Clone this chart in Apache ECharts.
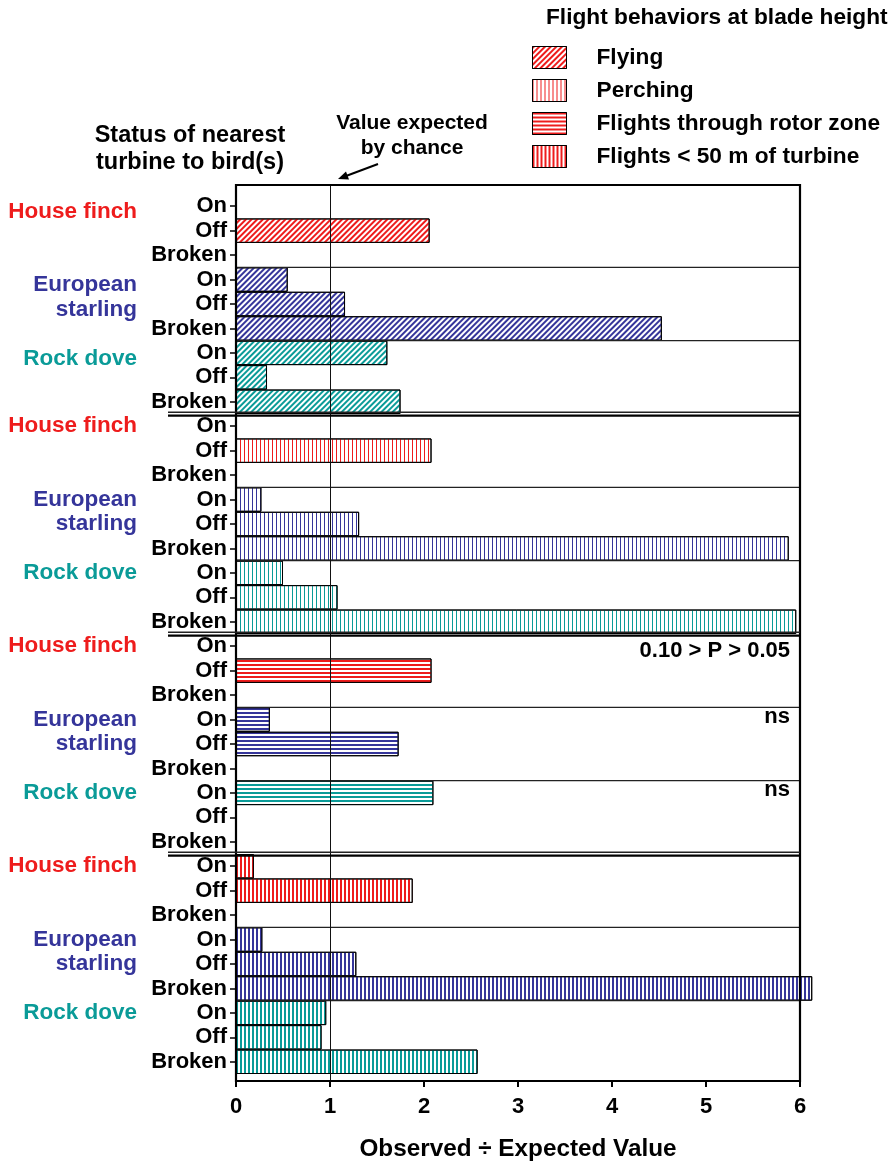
<!DOCTYPE html>
<html>
<head>
<meta charset="utf-8">
<script src="https://cdn.jsdelivr.net/npm/echarts@6/dist/echarts.min.js"></script>
<style>
html, body { margin: 0; padding: 0; background: #fff; }
#main { width: 891px; height: 1166px; }
</style>
</head>
<body>
<div id="main"></div>
<script>
var FONT = '"Liberation Sans", Arial, sans-serif';

// categories
var statusNames = ['On', 'Off', 'Broken'];
var speciesNames = ['House finch', 'European starling', 'Rock dove'];
var speciesColors = ['#ee1c1c', '#35359a', '#0a9b98'];
var behaviorNames = ['Flying', 'Perching', 'Flights through rotor zone', 'Flights < 50 m of turbine'];

// values, order: finch On/Off/Broken, starling On/Off/Broken, dove On/Off/Broken
var flying    = [null, 2.06, null, 0.55, 1.16, 4.53, 1.61, 0.33, 1.75];
var perching  = [null, 2.08, null, 0.27, 1.31, 5.88, 0.50, 1.08, 5.96];
var rotorZone = [null, 2.08, null, 0.36, 1.73, null, 2.10, null, null];
var near50m   = [0.19, 1.88, null, 0.28, 1.28, 6.13, 0.96, 0.91, 2.57];

var xTicks = [0, 1, 2, 3, 4, 5, 6];
var expectedValue = 1;

// significance notes for the rotor zone panel (one per species)
var rotorNotes = ['0.10 > P > 0.05', 'ns', 'ns'];

var behaviorValues = [flying, perching, rotorZone, near50m];

// fill patterns, one per behavior
var patterns = [
    { dashArrayX: [1, 0], dashArrayY: [1.4, 1.9], rotation: -Math.PI / 4 },
    { dashArrayX: [1, 2.6], dashArrayY: [1, 0] },
    { dashArrayX: [1, 0], dashArrayY: [2, 1.8] },
    { dashArrayX: [2, 1.5], dashArrayY: [1, 0] }
];

function makeDecal(b, color) {
    var d = { symbol: 'rect', symbolSize: 1, color: color };
    for (var k in patterns[b]) d[k] = patterns[b][k];
    return d;
}

// one category per row: behavior panel x species x status
var categories = [];
behaviorNames.forEach(function (bn, b) {
    speciesNames.forEach(function (sn, s) {
        statusNames.forEach(function (st) {
            categories.push(b + '|' + s + '|' + st);
        });
    });
});

var series = behaviorNames.map(function (name, b) {
    var data = [];
    categories.forEach(function (c, i) {
        var p = Math.floor(i / 9), k = i % 9;
        var v = behaviorValues[b][k];
        if (p !== b || v == null) {
            data.push('-');
            return;
        }
        data.push({
            value: v,
            itemStyle: { decal: makeDecal(b, speciesColors[Math.floor(k / 3)]) }
        });
    });
    return {
        name: name,
        type: 'bar',
        barGap: '-100%',
        barCategoryGap: '0%',
        clip: false,
        silent: true,
        itemStyle: {
            color: '#fff',
            borderColor: '#000',
            borderWidth: 1,
            decal: makeDecal(b, '#ee1c1c')
        },
        data: data
    };
});

// y labels: status, plus species name on the first rows of each block
var rich = {
    st: { width: 90, align: 'right', fontSize: 22, fontWeight: 'bold', color: '#000', fontFamily: FONT }
};
speciesColors.forEach(function (c, s) {
    rich['s' + s] = { width: 150, align: 'right', fontSize: 22.5, fontWeight: 'bold', color: c, fontFamily: FONT };
    // top panel names sit a little lower
    rich['t' + s] = { width: 150, align: 'right', fontSize: 22.5, fontWeight: 'bold', color: c, fontFamily: FONT, padding: [11, 0, 0, 0] };
});

function yLabel(value, index) {
    var k = index % 9;
    var s = Math.floor(k / 3), st = k % 3;
    var sp = '';
    if (s === 1) {
        if (st === 0) sp = 'European';
        if (st === 1) sp = 'starling';
    } else if (st === 0) {
        sp = speciesNames[s];
    }
    var key = (index < 9 && sp ? 't' : 's') + s;
    return '{' + key + '|' + sp + '}{st|' + statusNames[st] + '}';
}

var myChart = echarts.init(document.getElementById('main'));

var option = {
    animation: false,
    title: {
        text: 'Flight behaviors at blade height',
        left: 546,
        top: 6,
        padding: 0,
        textStyle: { fontSize: 22.7, fontWeight: 'bold', color: '#000', fontFamily: FONT }
    },
    legend: {
        orient: 'vertical',
        left: 532,
        top: 46,
        padding: 0,
        itemWidth: 34,
        itemHeight: 22,
        itemGap: 10,
        icon: 'rect',
        selectedMode: false,
        data: behaviorNames,
        itemStyle: { borderColor: '#000', borderWidth: 1 },
        textStyle: { fontSize: 22.7, fontWeight: 'bold', color: '#000', fontFamily: FONT, padding: [0, 0, 0, 25] }
    },
    grid: {
        left: 236,
        right: 91,
        top: 194,
        bottom: 86
    },
    xAxis: {
        type: 'value',
        min: xTicks[0],
        max: xTicks[xTicks.length - 1],
        interval: 1,
        offset: 7,
        axisLine: { show: false },
        axisTick: { show: true, length: 6, lineStyle: { color: '#000', width: 2 } },
        axisLabel: { fontSize: 22, fontWeight: 'bold', color: '#000', margin: 15, fontFamily: FONT },
        splitLine: { show: false },
        name: 'Observed ÷ Expected Value',
        nameLocation: 'middle',
        nameGap: 56,
        nameTextStyle: { fontSize: 24.3, fontWeight: 'bold', color: '#000', fontFamily: FONT }
    },
    yAxis: {
        type: 'category',
        inverse: true,
        data: categories,
        axisLine: { show: false },
        axisTick: { show: true, alignWithLabel: true, length: 6, lineStyle: { color: '#000', width: 1.5 } },
        axisLabel: { interval: 0, margin: 9, formatter: yLabel, rich: rich },
        splitLine: { show: false }
    },
    series: series
};

myChart.setOption(option);

// frame, separators and notes placed through the axes
var rowY = function (i) { return myChart.convertToPixel({ yAxisIndex: 0 }, categories[i]); };
var colX = function (v) { return myChart.convertToPixel({ xAxisIndex: 0 }, v); };
var rowH = rowY(1) - rowY(0);
var x0 = colX(xTicks[0]), x6 = colX(xTicks[xTicks.length - 1]);
var frameTop = rowY(0) - rowH / 2 - 9;
var frameBottom = rowY(categories.length - 1) + rowH / 2 + 7;

var graphics = [];
graphics.push({
    type: 'rect', z: 20,
    shape: { x: x0, y: frameTop, width: x6 - x0, height: frameBottom - frameTop },
    style: { fill: 'none', stroke: '#000', lineWidth: 2.2 }
});
var xe = colX(expectedValue) + 0.5;
graphics.push({
    type: 'line', z: 19,
    shape: { x1: xe, y1: frameTop, x2: xe, y2: frameBottom },
    style: { stroke: '#111', lineWidth: 1 }
});

for (var i = 3; i < categories.length; i += 3) {
    var yb = rowY(i) - rowH / 2;
    if (i % 9 === 0) {
        graphics.push({ type: 'line', z: 21, shape: { x1: 168, y1: yb - 1.8, x2: x6, y2: yb - 1.8 }, style: { stroke: '#222', lineWidth: 1.6 } });
        graphics.push({ type: 'line', z: 21, shape: { x1: 168, y1: yb + 1.6, x2: x6, y2: yb + 1.6 }, style: { stroke: '#000', lineWidth: 2.2 } });
    } else {
        graphics.push({ type: 'line', z: 18, shape: { x1: x0, y1: yb, x2: x6, y2: yb }, style: { stroke: '#222', lineWidth: 1.2 } });
    }
}

rotorNotes.forEach(function (t, s) {
    graphics.push({
        type: 'text', z: 22,
        x: x6 - 10, y: rowY(18 + s * 3) + (s === 0 ? 5 : -3),
        style: { text: t, align: 'right', verticalAlign: 'middle', font: 'bold 22px ' + FONT, fill: '#000' }
    });
});

graphics.push({
    type: 'text', z: 22, x: 190, y: 149,
    style: { text: 'Status of nearest\nturbine to bird(s)', align: 'center', verticalAlign: 'middle', lineHeight: 27, font: 'bold 23.5px ' + FONT, fill: '#000' }
});
graphics.push({
    type: 'text', z: 22, x: 412, y: 136,
    style: { text: 'Value expected\nby chance', align: 'center', verticalAlign: 'middle', lineHeight: 25, font: 'bold 21px ' + FONT, fill: '#000' }
});
graphics.push({
    type: 'line', z: 22,
    shape: { x1: 378, y1: 164, x2: 346, y2: 176 },
    style: { stroke: '#000', lineWidth: 2 }
});
graphics.push({
    type: 'polygon', z: 22,
    shape: { points: [[338, 179], [349, 179.5], [346, 171.5]] },
    style: { fill: '#000' }
});

myChart.setOption({ graphic: graphics });
</script>
</body>
</html>
